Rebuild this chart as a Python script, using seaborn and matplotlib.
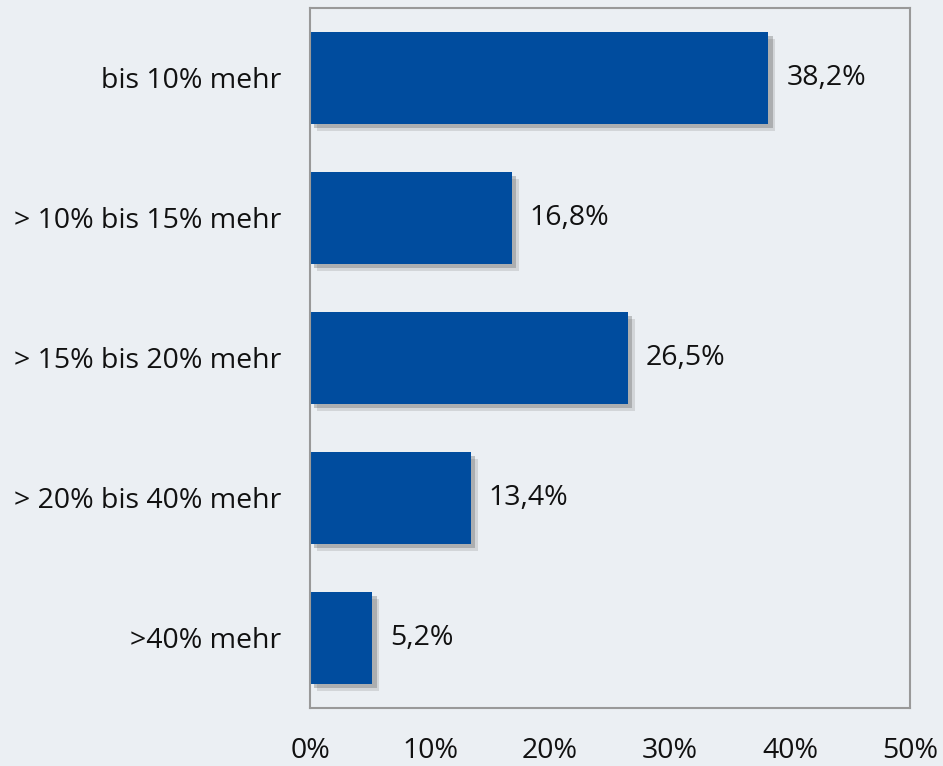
import matplotlib
matplotlib.use("Agg")
import matplotlib.pyplot as plt
import matplotlib.patheffects as pe
import seaborn as sns
import pandas as pd

categories = ["bis 10% mehr", "> 10% bis 15% mehr", "> 15% bis 20% mehr",
              "> 20% bis 40% mehr", ">40% mehr"]
values = [38.2, 16.8, 26.5, 13.4, 5.2]
value_labels = ["38,2%", "16,8%", "26,5%", "13,4%", "5,2%"]
xticks = [0, 10, 20, 30, 40, 50]
xtick_labels = ["0%", "10%", "20%", "30%", "40%", "50%"]

bg = "#EBEFF3"
bar_color = "#004C9E"

sns.set_theme(style="white")
plt.rcParams["font.family"] = ["Open Sans", "DejaVu Sans"]

fig = plt.figure(figsize=(9.43, 7.66), dpi=100, facecolor=bg)
ax = fig.add_axes([310/943, 1 - 708/766, 600/943, 700/766])
ax.set_facecolor(bg)

df = pd.DataFrame({"cat": categories, "val": values})
sns.barplot(data=df, x="val", y="cat", orient="h", color=bar_color,
            saturation=1, width=0.66, linewidth=0, ax=ax)

for p in ax.patches:
    p.set_edgecolor("none")
    p.set_linewidth(0)
    p.set_path_effects([
        pe.SimplePatchShadow(offset=(5, -5), shadow_rgbFace="#888888", alpha=0.25),
        pe.SimplePatchShadow(offset=(3, -3), shadow_rgbFace="#666666", alpha=0.35),
        pe.Normal()])

for i, (v, lab) in enumerate(zip(values, value_labels)):
    ax.annotate(lab, xy=(v, i), xytext=(13, 0), textcoords="offset points",
                ha="left", va="center", fontsize=20.5, color="#111111")

ax.set_xlim(0, 50)
ax.set_xticks(xticks)
ax.set_xticklabels(xtick_labels, fontsize=20.5, color="#111111")
ax.tick_params(axis="x", length=0, pad=21)
ax.tick_params(axis="y", length=0, pad=21, labelsize=20.5, labelcolor="#111111")
ax.set_xlabel("")
ax.set_ylabel("")
for s in ax.spines.values():
    s.set_visible(True)
    s.set_color("#999999")
    s.set_linewidth(1.5)

fig.savefig("out.png", dpi=100, facecolor=bg)
